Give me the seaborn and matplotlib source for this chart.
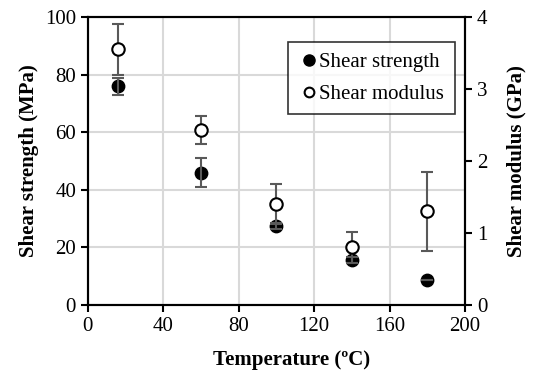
import numpy as np
import pandas as pd
import matplotlib
matplotlib.use("Agg")
import matplotlib.pyplot as plt
import seaborn as sns
from matplotlib.lines import Line2D

# data
temperature = [16, 60, 100, 140, 180]
strength = [76.0, 46.0, 27.5, 15.5, 8.8]       # MPa
strength_err = [3.0, 5.0, 1.0, 1.0, 0.0]
modulus = [3.55, 2.43, 1.40, 0.80, 1.30]       # GPa
modulus_err = [0.36, 0.20, 0.28, 0.22, 0.55]

df = pd.DataFrame({"T": temperature, "strength": strength, "modulus": modulus})

sns.set_theme(style="ticks")
plt.rcParams['font.family'] = ['Liberation Serif', 'DejaVu Serif']
plt.rcParams['text.color'] = 'black'
plt.rcParams['axes.labelcolor'] = 'black'

fig = plt.figure(figsize=(5.36, 3.71), dpi=100)
ax = fig.add_axes([0.164, 0.178, 0.7035, 0.776])
ax2 = ax.twinx()

fs = 15
grid_c = '#d9d9d9'
err_c = '#595959'

# strength (left axis)
sns.scatterplot(data=df, x="T", y="strength", ax=ax, color='black', s=80,
                edgecolor='black', linewidth=1, zorder=2, legend=False)
ax.errorbar(temperature, strength, yerr=strength_err, fmt='none', ecolor=err_c,
            elinewidth=1.5, capsize=4, capthick=1.5, zorder=3)

# modulus (right axis)
ax2.errorbar(temperature, modulus, yerr=modulus_err, fmt='none', ecolor=err_c,
             elinewidth=1.5, capsize=4, capthick=1.5, zorder=2)
sns.scatterplot(data=df, x="T", y="modulus", ax=ax2, color='white', s=80,
                edgecolor='black', linewidth=1.5, zorder=3, legend=False)

ax.set_xlim(0, 200)
ax.set_ylim(0, 100)
ax2.set_ylim(0, 4)
ax.set_xticks(np.arange(0, 201, 40))
ax.set_yticks(np.arange(0, 101, 20))
ax2.set_yticks(np.arange(0, 5, 1))
ax.grid(True, color=grid_c, linewidth=1.5)
ax.set_axisbelow(True)

for a in (ax, ax2):
    for sp in a.spines.values():
        sp.set_linewidth(1.5)
        sp.set_color('black')
        sp.set_visible(True)
    a.tick_params(labelsize=fs, width=1.5, length=5, direction='out',
                  colors='black', labelcolor='black')

ax.set_xlabel('Temperature (ºC)', fontsize=fs, fontweight='bold', color='black')
ax.xaxis.set_label_coords(0.54, -0.155)
ax.set_ylabel('Shear strength (MPa)', fontsize=fs, fontweight='bold', color='black')
ax2.set_ylabel('Shear modulus (GPa)', fontsize=fs, fontweight='bold', color='black',
               labelpad=14)
ax2.set_xlabel('')

handles = [
    Line2D([], [], marker='o', linestyle='none', markerfacecolor='black',
           markeredgecolor='black', markersize=8),
    Line2D([], [], marker='o', linestyle='none', markerfacecolor='white',
           markeredgecolor='black', markeredgewidth=1.5, markersize=7),
]
leg = ax2.legend(handles, ['Shear strength', 'Shear modulus'], loc='upper right',
                 bbox_to_anchor=(1.0, 0.95), fontsize=fs, frameon=True,
                 fancybox=False, edgecolor='black', handletextpad=0.0,
                 handlelength=1.0, borderpad=0.5, labelspacing=0.6)
leg.get_frame().set_linewidth(1.2)
for t in leg.get_texts():
    t.set_color('black')

fig.savefig('out.png', dpi=100)
